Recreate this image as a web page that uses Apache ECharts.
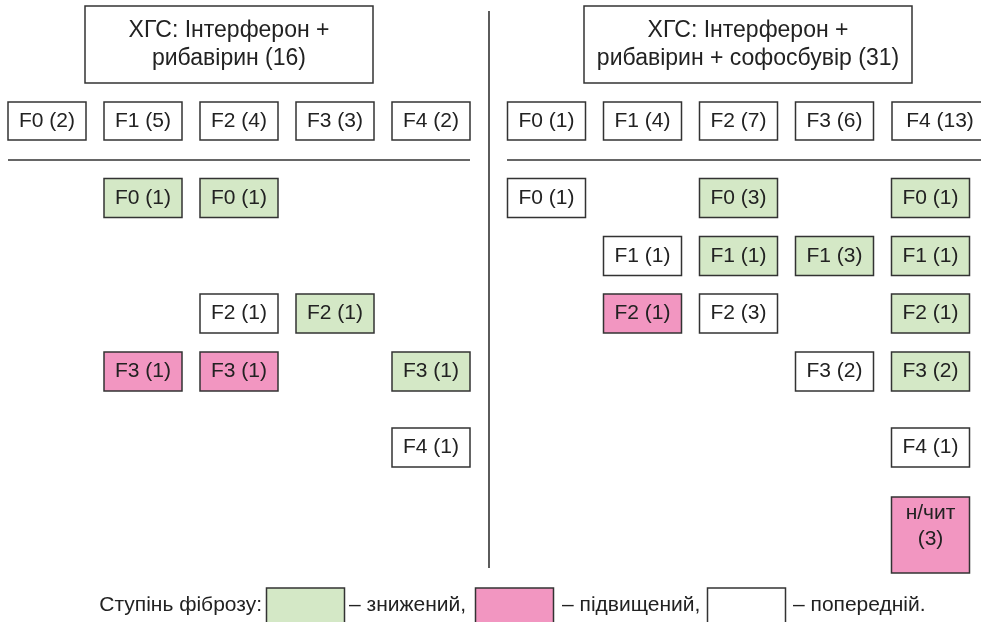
<!DOCTYPE html>
<html>
<head>
<meta charset="utf-8">
<script src="https://cdn.jsdelivr.net/npm/echarts@6/dist/echarts.min.js"></script>
<style>
html,body{margin:0;padding:0;background:#fff}
#main{width:981px;height:622px}
</style>
</head>
<body>
<div id="main"></div>
<script>
// дані
var stages = ['F0', 'F1', 'F2', 'F3', 'F4'];
var leftTitle = 'ХГС: Інтерферон +\nрибавірин (16)';
var rightTitle = 'ХГС: Інтерферон +\nрибавірин + софосбувір (31)';
var leftTotals = [2, 5, 4, 3, 2];
var rightTotals = [1, 4, 7, 6, 13];
// [стадія до, стадія після (5 = н/чит), кількість, зміна]
var leftOutcomes = [
  [1, 0, 1, 'down'], [1, 3, 1, 'up'],
  [2, 0, 1, 'down'], [2, 2, 1, 'same'], [2, 3, 1, 'up'],
  [3, 2, 1, 'down'],
  [4, 3, 1, 'down'], [4, 4, 1, 'same']
];
var rightOutcomes = [
  [0, 0, 1, 'same'],
  [1, 1, 1, 'same'], [1, 2, 1, 'up'],
  [2, 0, 3, 'down'], [2, 1, 1, 'down'], [2, 2, 3, 'same'],
  [3, 1, 3, 'down'], [3, 3, 2, 'same'],
  [4, 0, 1, 'down'], [4, 1, 1, 'down'], [4, 2, 1, 'down'], [4, 3, 2, 'down'], [4, 4, 1, 'same'], [4, 5, 3, 'up']
];
var legendTitle = 'Ступінь фіброзу:';
var legendKinds = ['down', 'up', 'same'];
var legendLabels = ['– знижений,', '– підвищений,', '– попередній.'];

// розмітка
var colors = { down: '#d4e8c6', up: '#f296c1', same: '#ffffff' };
var FAMILY = '"Liberation Sans", Arial, sans-serif';
var colX = [47, 143, 239, 335, 431];
var panelShift = [0, 499.5];
var rowY = [198, 256, 313.5, 371.5, 447.5, 535];
var boxW = 78, boxH = 39;

var boxes = [];
function addBox(x, y, w, h, text, kind, size, dy) {
  boxes.push({ value: [x, y, w, h], text: text, kind: kind, size: size || 21, dy: dy || 0 });
}
addBox(229, 44.5, 288, 77, leftTitle, 'same', 23);
addBox(748, 44.5, 328, 77, rightTitle, 'same', 23);
[leftTotals, rightTotals].forEach(function (totals, p) {
  totals.forEach(function (n, i) {
    var x = colX[i] + panelShift[p], w = boxW;
    if (p === 1 && i === 4) { x = 940; w = 96; }
    addBox(x, 121, w, 38, stages[i] + ' (' + n + ')', 'same');
  });
});
[leftOutcomes, rightOutcomes].forEach(function (list, p) {
  list.forEach(function (d) {
    if (d[1] < 5) {
      addBox(colX[d[0]] + panelShift[p], rowY[d[1]], boxW, boxH, stages[d[1]] + ' (' + d[2] + ')', d[3]);
    } else {
      addBox(colX[d[0]] + panelShift[p], rowY[d[1]], boxW, 76, 'н/чит\n(' + d[2] + ')', d[3], 21, -9);
    }
  });
});
var legendBoxX = [305.5, 514.5, 746.5];
var legendTextX = [349, 562, 793];
legendKinds.forEach(function (k, i) {
  addBox(legendBoxX[i], 608, 78, 40, '', k);
});

var chart = echarts.init(document.getElementById('main'), null, { renderer: 'canvas' });
var option = {
  backgroundColor: '#fff',
  animation: false,
  grid: { left: 0, right: 0, top: 0, bottom: 0 },
  xAxis: { type: 'value', min: 0, max: 981, show: false },
  yAxis: { type: 'value', min: 0, max: 622, inverse: true, show: false },
  series: [
    {
      type: 'custom',
      data: boxes,
      renderItem: function (params, api) {
        var b = boxes[params.dataIndex];
        var c = api.coord([api.value(0), api.value(1)]);
        var s = api.size([api.value(2), api.value(3)]);
        return {
          type: 'rect',
          shape: { x: c[0] - s[0] / 2, y: c[1] - s[1] / 2, width: s[0], height: s[1] },
          style: { fill: colors[b.kind], stroke: '#333', lineWidth: 1.5 },
          textContent: {
            style: {
              text: b.text, fill: '#222', font: b.size + 'px ' + FAMILY,
              align: 'center', lineHeight: b.size + 5
            }
          },
          textConfig: { position: 'inside', offset: [0, b.dy] }
        };
      }
    },
    {
      type: 'lines',
      coordinateSystem: 'cartesian2d',
      silent: true,
      lineStyle: { color: '#333', width: 1.6, opacity: 1 },
      data: [
        { coords: [[8, 160], [470, 160]] },
        { coords: [[507, 160], [981, 160]] },
        { coords: [[489, 11], [489, 568]] }
      ]
    }
  ],
  graphic: [
    {
      type: 'text', x: 262, y: 605,
      style: { text: legendTitle, font: '21px ' + FAMILY, fill: '#222', align: 'right', verticalAlign: 'middle' }
    }
  ].concat(legendLabels.map(function (t, i) {
    return {
      type: 'text', x: legendTextX[i], y: 605,
      style: { text: t, font: '21px ' + FAMILY, fill: '#222', verticalAlign: 'middle' }
    };
  }))
};
chart.setOption(option);
</script>
</body>
</html>
